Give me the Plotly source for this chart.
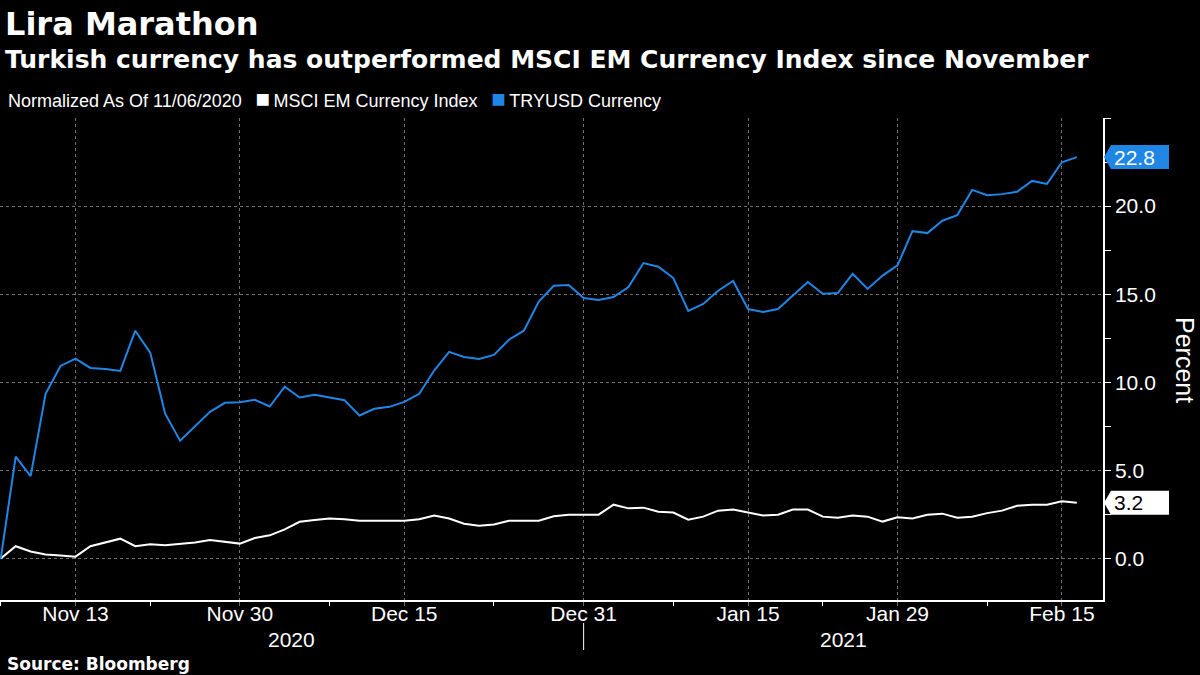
import pandas as pd
import plotly.graph_objects as go

# ---------------- data ----------------
dates = pd.bdate_range("2020-11-06", periods=73)

msci_em = [0.00, 0.70, 0.40, 0.23, 0.17, 0.11, 0.70, 0.91, 1.13, 0.70,
           0.81, 0.75, 0.81, 0.91, 1.05, 0.96, 0.85, 1.17, 1.32, 1.66,
           2.09, 2.19, 2.28, 2.23, 2.15, 2.15, 2.15, 2.15, 2.23, 2.45,
           2.27, 1.98, 1.87, 1.94, 2.15, 2.15, 2.15, 2.40, 2.49, 2.49,
           2.49, 3.06, 2.85, 2.89, 2.66, 2.61, 2.21, 2.38, 2.72, 2.78,
           2.61, 2.44, 2.49, 2.78, 2.78, 2.38, 2.32, 2.44, 2.38, 2.10,
           2.34, 2.27, 2.49, 2.55, 2.32, 2.38, 2.58, 2.72, 3.00, 3.06,
           3.06, 3.25, 3.17]

tryusd = [0.00, 5.78, 4.68, 9.35, 10.93, 11.35, 10.82, 10.76, 10.65, 12.93,
          11.69, 8.22, 6.69, 7.51, 8.33, 8.84, 8.87, 9.01, 8.63, 9.76,
          9.14, 9.29, 9.12, 8.99, 8.12, 8.50, 8.61, 8.89, 9.35, 10.67,
          11.73, 11.44, 11.33, 11.56, 12.42, 12.93, 14.59, 15.48, 15.52, 14.79,
          14.67, 14.84, 15.41, 16.77, 16.56, 15.92, 14.05, 14.45, 15.20, 15.75,
          14.16, 13.99, 14.16, 14.92, 15.69, 15.03, 15.07, 16.16, 15.30, 16.06,
          16.64, 18.58, 18.47, 19.17, 19.49, 20.92, 20.62, 20.68, 20.81, 21.43,
          21.26, 22.49, 22.78]

major_tick_dates = ["2020-11-13", "2020-11-30", "2020-12-15", "2020-12-31",
                    "2021-01-15", "2021-01-29", "2021-02-15"]
minor_tick_dates = ["2020-11-06", "2020-11-20", "2020-12-08", "2020-12-23",
                    "2021-01-08", "2021-01-22", "2021-02-08"]
y_major = [0, 5, 10, 15, 20, 25]
y_labels = ["0.0", "5.0", "10.0", "15.0", "20.0", ""]
y_minor = [2.5, 7.5, 12.5, 17.5, 22.5]

title = "Lira Marathon"
subtitle = "Turkish currency has outperformed MSCI EM Currency Index since November"
source = "Source: Bloomberg"

# ---------------- style ----------------
BLUE = "#1f86e6"
WHITE = "#ffffff"
GRID = "#707070"
FONT = "Liberation Sans, Arial, sans-serif"
BOLD_FONT = "DejaVu Sans, Verdana, sans-serif"

W, H = 1200, 675
ML, MR, MT, MB = 0, 97, 118, 75
PW, PH = W - ML - MR, H - MT - MB


def py(p):  # pixel y (from top) -> paper y
    return (H - MB - p) / PH


def px(p):  # pixel x -> paper x
    return (p - ML) / PW


x = list(range(len(dates)))
idx = {d.strftime("%Y-%m-%d"): i for i, d in enumerate(dates)}
major_vals = [idx[d] for d in major_tick_dates]
major_text = [pd.Timestamp(d).strftime("%b %-d") for d in major_tick_dates]
minor_vals = [idx[d] for d in minor_tick_dates]

x_range = [-0.05, 73.75]
year_split = idx["2020-12-31"]

fig = go.Figure()
fig.add_trace(go.Scatter(x=x, y=msci_em, mode="lines", name="MSCI EM Currency Index",
                         line=dict(color=WHITE, width=2), hoverinfo="skip"))
fig.add_trace(go.Scatter(x=x, y=tryusd, mode="lines", name="TRYUSD Currency",
                         line=dict(color=BLUE, width=2), hoverinfo="skip"))

fig.update_layout(
    width=W, height=H,
    margin=dict(l=ML, r=MR, t=MT, b=MB),
    paper_bgcolor="black", plot_bgcolor="black",
    showlegend=False,
    font=dict(family=FONT, color=WHITE),
    xaxis=dict(
        range=x_range, showline=True, linecolor=WHITE, linewidth=1.5,
        tickmode="array", tickvals=major_vals, ticktext=major_text,
        ticks="outside", ticklen=4, tickcolor=GRID, tickwidth=1,
        tickfont=dict(size=21, color=WHITE), ticklabelstandoff=-10,
        showgrid=True, gridcolor=GRID, griddash="dot", gridwidth=1,
        zeroline=False,
        minor=dict(tickvals=minor_vals, ticks="outside", ticklen=4,
                   tickcolor=WHITE, tickwidth=1, showgrid=False),
    ),
    yaxis=dict(
        range=[-2.35, 25], side="right", showline=True, linecolor=WHITE, linewidth=1.5,
        tickmode="array", tickvals=y_major, ticktext=y_labels,
        ticks="outside", ticklen=6, tickcolor=WHITE, tickwidth=1,
        tickfont=dict(size=21, color=WHITE),
        showgrid=True, gridcolor=GRID, griddash="dot", gridwidth=1,
        zeroline=False,
        minor=dict(tickvals=y_minor, ticks="outside", ticklen=6,
                   tickcolor=WHITE, tickwidth=1, showgrid=False),
    ),
)

ann = []
ann.append(dict(text=f"<b>{title}</b>", xref="paper", yref="paper", x=px(3), y=py(24),
                xanchor="left", yanchor="middle", showarrow=False,
                font=dict(size=32, color=WHITE, family=BOLD_FONT)))
ann.append(dict(text=f"<b>{subtitle}</b>", xref="paper", yref="paper", x=px(3), y=py(60),
                xanchor="left", yanchor="middle", showarrow=False,
                font=dict(size=25, color=WHITE, family=BOLD_FONT)))
legend_text = ("Normalized As Of 11/06/2020  \u2009"
               f"<span style='color:{WHITE};font-size:24px'>■</span>\u2009MSCI EM Currency Index  \u2009"
               f"<span style='color:{BLUE};font-size:24px'>■</span>\u2009TRYUSD Currency")
ann.append(dict(text=legend_text, xref="paper", yref="paper", x=px(6), y=py(99),
                xanchor="left", yanchor="middle", showarrow=False,
                font=dict(size=18, color=WHITE)))
ann.append(dict(text=f"<b>{source}</b>", xref="paper", yref="paper", x=px(5), y=py(664),
                xanchor="left", yanchor="middle", showarrow=False,
                font=dict(size=17, color=WHITE, family=BOLD_FONT)))
ann.append(dict(text="Percent", xref="paper", yref="paper", x=px(1185), y=py(360),
                xanchor="center", yanchor="middle", showarrow=False, textangle=90,
                font=dict(size=25, color=WHITE)))
# year labels centred under each year's segment
ann.append(dict(text="2020", xref="x", yref="paper", x=(x_range[0] + year_split) / 2, y=py(639),
                xanchor="center", yanchor="middle", showarrow=False,
                font=dict(size=21, color=WHITE)))
ann.append(dict(text="2021", xref="x", yref="paper", x=(year_split + x_range[1]) / 2, y=py(639),
                xanchor="center", yanchor="middle", showarrow=False,
                font=dict(size=21, color=WHITE)))

shapes = [dict(type="line", xref="x", yref="paper", x0=year_split, x1=year_split,
               y0=py(623), y1=py(650), line=dict(color=WHITE, width=1))]

# last-value callouts
for series, fill, txt in [(tryusd, BLUE, WHITE), (msci_em, WHITE, "black")]:
    last = series[-1]
    shapes.append(dict(type="path", xref="paper", yref="y", xsizemode="pixel", ysizemode="pixel",
                       xanchor=1, yanchor=last,
                       path="M 1,0 L 8,12 L 66,12 L 66,-12 L 8,-12 Z",
                       fillcolor=fill, line=dict(width=0), layer="above"))
    ann.append(dict(text=f"{last:.1f}", xref="paper", yref="y", x=1, y=last, xshift=9,
                    xanchor="left", yanchor="middle", showarrow=False,
                    font=dict(size=21, color=txt)))

fig.update_layout(annotations=ann, shapes=shapes)
fig.write_html("out.html", config={"displayModeBar": False},
               post_script="document.body.style.margin='0px';document.body.style.overflow='hidden';")
